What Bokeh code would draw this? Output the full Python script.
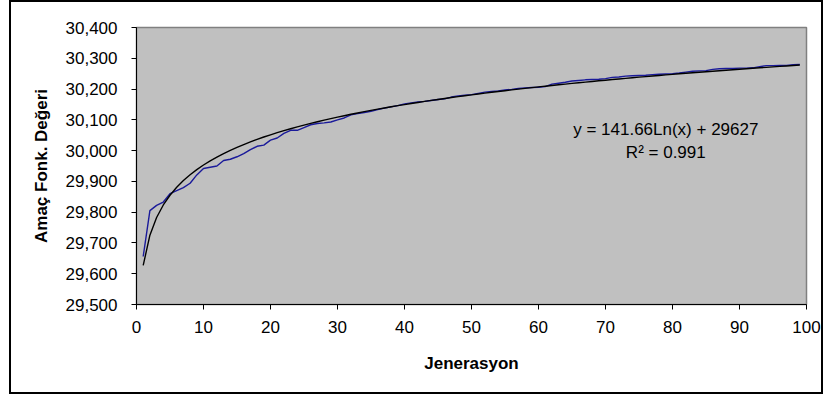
import numpy as np
from bokeh.plotting import figure
from bokeh.models import Label, NumeralTickFormatter, FixedTicker, Range1d
from bokeh.embed import file_html
from bokeh.resources import INLINE

# ---- data ----
generations = list(range(1, 100))
best_values = [
    29656, 29805, 29822, 29833, 29860, 29870, 29880, 29894, 29921, 29942,
    29946, 29950, 29968, 29972, 29980, 29990, 30003, 30014, 30018, 30034,
    30041, 30056, 30066, 30066, 30075, 30084, 30088, 30090, 30093, 30100,
    30106, 30116, 30120, 30124, 30128, 30133, 30138, 30142, 30146, 30152,
    30155, 30158, 30160, 30163, 30166, 30168, 30174, 30178, 30180, 30182,
    30186, 30190, 30192, 30194, 30197, 30199, 30202, 30204, 30205, 30206,
    30208, 30216, 30219, 30222, 30226, 30228, 30230, 30231, 30232, 30234,
    30238, 30239, 30242, 30243, 30244, 30245, 30247, 30248, 30249, 30250,
    30252, 30255, 30258, 30259, 30260, 30264, 30266, 30267, 30267, 30268,
    30268, 30269, 30273, 30276, 30276, 30277, 30277, 30279, 30280,
]
trend_a = 141.66
trend_b = 29627
x_ticks = list(range(0, 101, 10))
y_ticks = list(range(29500, 30401, 100))
equation_text = "y = 141.66Ln(x) + 29627"
r2_text = "R\u00b2 = 0.991"
x_title = "Jenerasyon"
y_title = "Amaç Fonk. Değeri"

trend_x = np.array(generations, dtype=float)
trend_y = trend_a * np.log(trend_x) + trend_b

FONT = "Liberation Sans"

p = figure(width=814, height=394, output_backend="svg", toolbar_location=None,
           x_range=Range1d(0, 100), y_range=Range1d(29500, 30400),
           min_border_left=125, min_border_right=19, min_border_top=25,
           min_border_bottom=92)
p.styles = {"border": "2px solid black", "margin-left": "9px"}
p.background_fill_color = "#C0C0C0"
p.border_fill_color = "white"
p.outline_line_color = "#808080"
p.outline_line_width = 1.5
p.xgrid.visible = False
p.ygrid.visible = False

p.line(generations, best_values, line_color="#1a1a9a", line_width=1.4)
p.line(trend_x, trend_y, line_color="black", line_width=1.4)

for ax in (p.xaxis[0], p.yaxis[0]):
    ax.axis_line_color = "black"
    ax.axis_line_width = 1
    ax.major_tick_line_color = "black"
    ax.minor_tick_line_color = None
    ax.major_tick_in = 0
    ax.major_tick_out = 5
    ax.major_label_text_font = FONT
    ax.major_label_text_font_size = "17px"
    ax.major_label_text_color = "black"
    ax.axis_label_text_font = FONT
    ax.axis_label_text_font_size = "17px"
    ax.axis_label_text_font_style = "bold"
    ax.axis_label_text_color = "black"

p.xaxis.ticker = FixedTicker(ticks=x_ticks)
p.yaxis.ticker = FixedTicker(ticks=y_ticks)
p.yaxis.formatter = NumeralTickFormatter(format="0,0")
p.xaxis.major_label_standoff = 11
p.yaxis.major_label_standoff = 14
p.xaxis.axis_label = x_title
p.yaxis.axis_label = y_title
p.xaxis.axis_label_standoff = 18
p.yaxis.axis_label_standoff = 12

p.add_layout(Label(x=79, y=30069, text=equation_text, text_align="center",
                   text_baseline="middle", text_font=FONT,
                   text_font_size="17px", text_color="black"))
p.add_layout(Label(x=79, y=29995, text=r2_text, text_align="center",
                   text_baseline="middle", text_font=FONT,
                   text_font_size="17px", text_color="black"))

open("out.html", "w").write(file_html(p, INLINE))
